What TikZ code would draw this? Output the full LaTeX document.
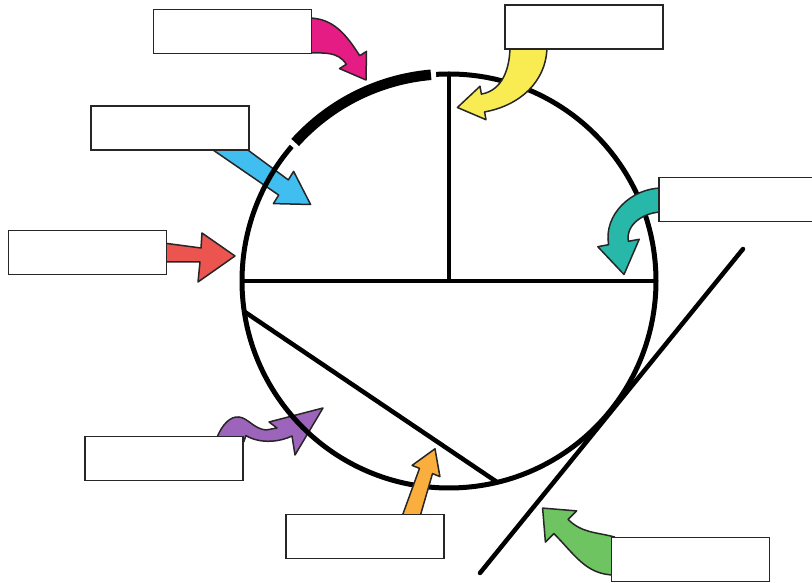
\documentclass[tikz,border=0pt]{standalone}
\usepackage{xcolor}
\usepackage{tikz}
\usetikzlibrary{calc}

\definecolor{pinkfill}{RGB}{228,28,132}
\definecolor{yellowfill}{RGB}{248,236,82}
\definecolor{tealfill}{RGB}{40,184,170}
\definecolor{redfill}{RGB}{236,84,80}
\definecolor{bluefill}{RGB}{64,190,240}
\definecolor{purplefill}{RGB}{156,100,186}
\definecolor{orangefill}{RGB}{250,174,62}
\definecolor{greenfill}{RGB}{110,196,96}

\begin{document}
\begin{tikzpicture}[x=1pt, y=1pt,
  labelbox/.style={draw=black!85, fill=white, line width=1.8pt, minimum width=158pt, minimum height=44pt, inner sep=0pt},
  fatarrow/.style={draw=black!85, line width=1.5pt, line join=round, fill=#1},
  part/.style={line width=4.5pt}]
\useasboundingbox (0,0) rectangle (812,583);
\coordinate (c) at (449,302);

% label boxes (named here, drawn on top at the end)
\path (232.5,551.5) node[labelbox, draw=none, fill=none] (arcbox) {};
\path (584,556) node[labelbox, draw=none, fill=none] (radiusbox) {};
\path (738,383.5) node[labelbox, draw=none, fill=none] (diameterbox) {};
\path (170,455) node[labelbox, draw=none, fill=none] (sectorbox) {};
\path (87.5,330.5) node[labelbox, draw=none, fill=none] (circumbox) {};
\path (164,124.5) node[labelbox, draw=none, fill=none] (segmentbox) {};
\path (365,46.5) node[labelbox, draw=none, fill=none] (chordbox) {};
\path (690.5,23.5) node[labelbox, draw=none, fill=none] (tangentbox) {};

% sector
\filldraw[fatarrow=bluefill] ($(sectorbox.south)+(40,3)$) -- (278.7,387.9) -- (273.4,379.4) -- (310.6,378.5) -- (293.6,411.6) -- (288.3,403.1) -- ($(sectorbox.south)+(75,3)$) -- cycle;

% segment
\filldraw[fatarrow=purplefill] ($(segmentbox.north east)+(-27,-2)$) .. controls (222,158) and (230,167) .. (239,166) .. controls (248,165) and (254,154) .. (266,153) -- (277,155) -- (269,161) -- (323,175) -- (295,128) -- (292,147) .. controls (282,142) and (262,138) .. ($(segmentbox.north east)+(2,0)$) -- ($(segmentbox.north east)+(0,-6)$) -- ($(segmentbox.north east)+(-27,-6)$) -- cycle;

% circle
\draw[line width=5pt] (c) circle (207);
\draw[white, line width=14pt] ($(c)+(93.6:207)$) arc (93.6:139.4:207);
\draw[line width=10.5pt] ($(c)+(95:207)$) arc (95:138:207);
\draw[part] (c) -- ($(c)+(90:207)$);
\draw[part] ($(c)+(180:207)$) -- ($(c)+(0:207)$);
\draw[part] ($(c)+(188.5:207)$) -- ($(c)+(-76.5:207)$);

% tangent
\draw[part, line cap=round] (480,10) -- (743,334);

% arc
\filldraw[fatarrow=pinkfill] ($(arcbox.east)+(-4,13.5)$) to[out=0,in=122.5] (359.7,527.3) -- (366.5,531.6) -- (366,503) -- (339.5,514.4) -- (346.3,518.7) to[out=122.5,in=0] ($(arcbox.east)+(-4,-21.5)$) -- cycle;

% radius
\filldraw[fatarrow=yellowfill] ($(radiusbox.south)+(-74,4)$) to[out=-90,in=10] (481.4,488.9) -- (480,496.7) -- (457.4,475.5) -- (486,463.3) -- (484.6,471.1) to[out=10,in=-90] ($(radiusbox.south)+(-37,4)$) -- cycle;

% diameter
\filldraw[fatarrow=tealfill] ($(diameterbox.west)+(4,11.5)$) to[out=180,in=100] (608.6,338.3) -- (597.8,336.3) -- (624,308.5) -- (639.2,343.7) -- (628.4,341.7) to[out=100,in=180] ($(diameterbox.west)+(4,-12.5)$) -- cycle;

% circumference
\filldraw[fatarrow=redfill] ($(circumbox.east)+(-4,9.5)$) -- (201,335) -- (202,350) -- (235,327) -- (198,301) -- (200,321) -- ($(circumbox.east)+(-4,-9.5)$) -- cycle;

% chord
\filldraw[fatarrow=orangefill] ($(chordbox.north)+(37,-3)$) -- (419.5,114.6) -- (412.1,117.6) -- (435,134.2) -- (439.9,106.4) -- (432.5,109.4) -- ($(chordbox.north)+(55,-3)$) -- cycle;

% tangent label
\filldraw[fatarrow=greenfill] ($(tangentbox.west)+(4,22.5)$) to[out=165,in=-45] (568.1,63.6) -- (576.6,72.1) -- (542.6,74.9) -- (545.4,40.9) -- (553.9,49.4) to[out=-45,in=180] ($(tangentbox.west)+(4,-15.5)$) -- cycle;

% boxes on top
\foreach \b in {arcbox, radiusbox, diameterbox, sectorbox, circumbox, segmentbox, chordbox, tangentbox}
  \node[labelbox] at (\b) {};
\end{tikzpicture}
\end{document}
